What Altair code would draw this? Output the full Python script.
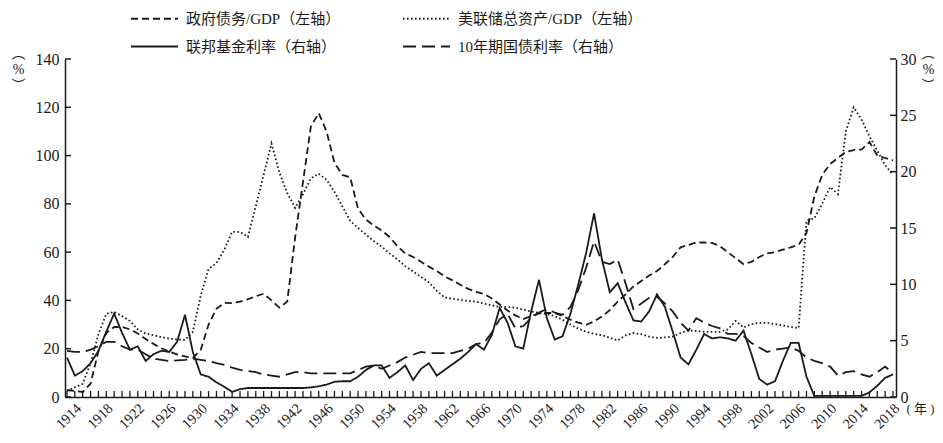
import altair as alt
import pandas as pd

years = list(range(1914, 2020))

gov_debt = [2.9, 2.5, 2.1, 5.5, 19, 26.5, 29, 29, 28, 26.3,
            24, 22, 20.2, 18.8, 17.7, 16.8, 16.2, 19.5, 30, 36.5,
            39, 38.9, 39.5, 40.5, 41.7, 42.8, 40, 37, 39.5, 66,
            89, 112, 117.6, 110, 97, 92, 91, 78, 73.5, 71,
            69, 66.3, 62.5, 59.5, 58, 56, 54, 52.2, 50, 48.3,
            46.5, 44.8, 43.5, 42.7, 40.8, 38.3, 35.8, 33.8, 32.3, 33.5,
            34.6, 34.8, 34.8, 33.5, 32, 30.8, 29.9, 31.3, 33.4, 36,
            39.5, 42.5, 45.8, 48, 50.3, 52.2, 55, 58, 62, 63,
            64, 64, 63.8, 62.5, 60, 57.5, 55, 56, 58, 59.5,
            60, 61, 62, 63, 68, 83, 92, 96.5, 99, 101.5,
            102.3, 102.5, 105.6, 100, 99, 98]

fed_assets = [2.5, 4, 5.5, 14, 26, 34.5, 35.2, 33.5, 31.5, 28,
              26.3, 25.6, 24.8, 24.2, 23.8, 23.6, 27, 42, 53, 55.5,
              61, 68.4, 68.4, 66.3, 79, 92, 105, 93, 84.5, 78.3,
              84, 90.5, 92.5, 90, 85, 79, 73, 70, 67.3, 64.6,
              62.3, 59.5, 57, 54.2, 52, 49.8, 47.5, 44, 41.2, 40.7,
              40.2, 39.8, 39.5, 38.7, 38, 37.3, 37.3, 37, 36.2, 35.4,
              34.8, 34.3, 33.5, 32, 30, 28.3, 27, 26.2, 25.6, 24.6,
              23.4, 25.5, 26.5, 26, 25, 24.5, 24.7, 25, 26.5, 27.6,
              27.3, 27, 27, 27, 28, 31.5, 28.8, 30.2, 30.7, 30.7,
              30.2, 29.6, 29, 28.6, 73, 74, 80, 87, 84, 110,
              120, 115, 108, 102, 96, 92]

fed_funds = [3.5, 1.9, 2.3, 3.0, 4.1, 5.8, 7.4, 5.7, 4.2, 4.5,
             3.2, 3.8, 4.1, 4.0, 4.9, 7.3, 4.0, 2.0, 1.8, 1.3,
             0.9, 0.45, 0.7, 0.8, 0.8, 0.8, 0.8, 0.8, 0.8, 0.8,
             0.8, 0.85, 0.95, 1.1, 1.35, 1.4, 1.4, 1.8, 2.4, 2.8,
             2.8, 1.7, 2.2, 2.8, 1.5, 2.5, 3.0, 1.9, 2.4, 2.9,
             3.4, 4.0, 4.7, 4.2, 5.5, 7.9, 6.6, 4.5, 4.3, 7.6,
             10.4, 7.0, 5.1, 5.4, 7.4, 10.0, 12.8, 16.3, 12.2, 9.3,
             10.1, 8.4, 6.8, 6.7, 7.6, 9.1, 8.0, 5.8, 3.5, 2.9,
             4.2, 5.6, 5.2, 5.3, 5.2, 5.0, 5.9, 3.8, 1.6, 1.1,
             1.4, 3.2, 4.8, 4.8, 1.8, 0.1, 0.1, 0.1, 0.1, 0.1,
             0.1, 0.1, 0.4, 1.0, 1.7, 2.0]

treasury_10y = [4.1, 4.0, 4.0, 4.2, 4.5, 4.9, 4.9, 4.5, 4.2, 4.2,
                3.8, 3.4, 3.3, 3.2, 3.25, 3.3, 3.4, 3.3, 3.2, 3.0,
                2.85, 2.6, 2.4, 2.3, 2.2, 2.0, 1.9, 1.8, 2.0, 2.2,
                2.2, 2.1, 2.1, 2.1, 2.1, 2.1, 2.1, 2.4, 2.7, 2.8,
                2.5, 2.8, 3.1, 3.5, 3.75, 4.0, 3.9, 3.9, 3.9, 3.9,
                4.1, 4.3, 4.7, 4.8, 5.7, 6.9, 7.4, 6.1, 6.3, 7.0,
                7.5, 7.8, 7.5, 7.3, 8.0, 9.5, 11.5, 13.8, 12.0, 11.8,
                12.2, 10.1, 7.8, 8.3, 8.8, 8.9, 8.3, 7.6, 6.6, 5.9,
                7.0, 6.6, 6.3, 6.1, 5.6, 5.6, 5.4, 4.8, 4.4, 4.0,
                4.2, 4.3, 4.4, 4.1, 3.5, 3.2, 3.0, 2.7, 1.9, 2.2,
                2.3, 2.0, 1.8, 2.2, 2.7, 2.1]

label_years = list(range(1914, 2019, 4))
left_ticks = [0, 20, 40, 60, 80, 100, 120, 140]
right_ticks = [0, 5, 10, 15, 20, 25, 30]

S_DEBT = "政府债务/GDP（左轴）"
S_ASSET = "美联储总资产/GDP（左轴）"
S_FF = "联邦基金利率（右轴）"
S_TY = "10年期国债利率（右轴）"
# legend fills column by column: column 1 = debt, fed funds; column 2 = assets, treasury
series_order = [S_DEBT, S_FF, S_ASSET, S_TY]
dash_range = [[7, 4], [1, 0], [1.6, 2.4], [13, 6]]

df = pd.DataFrame({"year": years, S_DEBT: gov_debt, S_ASSET: fed_assets,
                   S_FF: fed_funds, S_TY: treasury_10y})
yr_df = pd.DataFrame({"year": years})
lt_df = pd.DataFrame({"v": left_ticks})
rt_df = pd.DataFrame({"v": right_ticks})

W, H = 831, 338
INK = "#1a1a1a"
NUM_FONT = "Liberation Serif, Noto Sans CJK SC"
CJK_FONT = "Liberation Serif, Noto Sans CJK SC"

xscale = alt.Scale(domain=[1913.75, 2019.38], nice=False, zero=False)
xaxis = alt.Axis(values=label_years, format="d", labelAngle=-45, labelAlign="right",
                 labelBaseline="top", labelFont=NUM_FONT, labelFontSize=14.5,
                 labelColor=INK, labelPadding=4, labelOffset=7, ticks=False,
                 domainColor=INK, domainWidth=1.5, grid=False,
                 title="( 年 )", titleFont=CJK_FONT, titleFontSize=13,
                 titleFontWeight="normal", titleColor=INK, titleAngle=0,
                 titleAlign="left", titleBaseline="top", titleX=W + 10, titleY=5,
                 labelFlush=False, labelOverlap=False)

lscale = alt.Scale(domain=[0, 140], nice=False, zero=True)
laxis = alt.Axis(values=left_ticks, labelFont=NUM_FONT, labelFontSize=16,
                 labelColor=INK, labelPadding=6, ticks=False, domainColor=INK,
                 domainWidth=1.5, grid=False, title=["︵", "%", "︶"],
                 titleFont=CJK_FONT, titleFontSize=14, titleFontWeight="normal",
                 titleColor=INK, titleAngle=0, titleAlign="center",
                 titleBaseline="top", titleX=-47, titleY=-13, titleLineHeight=16,
                 labelFlush=False)

rscale = alt.Scale(domain=[0, 30], nice=False, zero=True)
raxis = alt.Axis(orient="right", values=right_ticks, labelFont=NUM_FONT,
                 labelFontSize=16, labelColor=INK, labelPadding=4, ticks=False,
                 domainColor=INK, domainWidth=1.5, grid=False,
                 title=["︵", "%", "︶"], titleFont=CJK_FONT, titleFontSize=14,
                 titleFontWeight="normal", titleColor=INK, titleAngle=0,
                 titleAlign="center", titleBaseline="top", titleX=32, titleY=-13,
                 titleLineHeight=16, labelFlush=False)

legend = alt.Legend(orient="none", legendX=82, legendY=-48, columns=2,
                    columnPadding=58, rowPadding=12, title=None,
                    symbolType="M-4,0H4", symbolSize=138, symbolStrokeWidth=1.8,
                    symbolStrokeColor=INK, symbolFillColor="transparent",
                    labelFont=CJK_FONT, labelFontSize=15, labelColor=INK,
                    labelOffset=24, labelLimit=400)

dash = alt.StrokeDash("series:N", scale=alt.Scale(domain=series_order, range=dash_range),
                      legend=legend, sort=series_order)

left_lines = alt.Chart(df).transform_fold([S_DEBT, S_ASSET], as_=["series", "value"]).mark_line(
    color=INK, strokeWidth=1.8, strokeCap="butt"
).encode(
    x=alt.X("year:Q", scale=xscale, axis=xaxis),
    y=alt.Y("value:Q", scale=lscale, axis=laxis),
    strokeDash=dash,
)

right_lines = alt.Chart(df).transform_fold([S_FF, S_TY], as_=["series", "value"]).mark_line(
    color=INK, strokeWidth=1.8, strokeCap="butt"
).encode(
    x=alt.X("year:Q", scale=xscale, axis=xaxis),
    y=alt.Y("value:Q", scale=rscale, axis=raxis),
    strokeDash=dash,
)

xticks = alt.Chart(yr_df).mark_rule(color=INK, strokeWidth=1.3).encode(
    x=alt.X("year:Q", scale=xscale, axis=xaxis),
    y=alt.value(H), y2=alt.value(H - 6),
)

lticks = alt.Chart(lt_df).mark_rule(color=INK, strokeWidth=1.5).encode(
    y=alt.Y("v:Q", scale=lscale, axis=laxis),
    x=alt.value(0), x2=alt.value(6),
)

rticks = alt.Chart(rt_df).mark_rule(color=INK, strokeWidth=1.5).encode(
    y=alt.Y("v:Q", scale=rscale, axis=raxis),
    x=alt.value(W - 6), x2=alt.value(W),
)

left_group = alt.layer(left_lines, lticks, xticks)
right_group = alt.layer(right_lines, rticks)

chart = alt.layer(left_group, right_group).resolve_scale(y="independent").properties(
    width=W, height=H,
    autosize=alt.AutoSizeParams(type="none"),
    padding={"left": 57, "top": 51, "right": 38, "bottom": 34},
    background="white",
).configure_view(stroke=None)

chart.save("out.html", embed_options={"renderer": "svg", "actions": False})
